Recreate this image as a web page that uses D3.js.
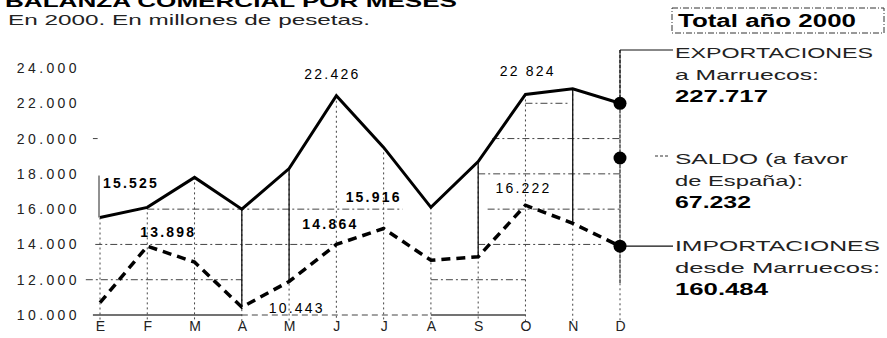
<!DOCTYPE html>
<html>
<head>
<meta charset="utf-8">
<script src="https://cdn.jsdelivr.net/npm/d3@7"></script>
<style>
  body { margin: 0; background: #fff; }
  svg { font-family: 'Liberation Sans', Arial, sans-serif; }
  .tick text { fill: #222; }
</style>
</head>
<body>
<div id="chart"></div>
<script>
// Months (x axis)
var months = ['E', 'F', 'M', 'A', 'M', 'J', 'J', 'A', 'S', 'O', 'N', 'D'];

// Exports to Morocco, millions of pesetas
var exportsData = [15525, 16100, 17800, 16000, 18300, 22426, 19500, 16100, 18700, 22500, 22824, 22000];

// Imports from Morocco, millions of pesetas
var importsData = [10700, 13898, 13000, 10443, 11900, 14000, 14900, 13100, 13300, 16222, 15200, 13900];

// Y ticks
var yTicks = [10000, 12000, 14000, 16000, 18000, 20000, 22000, 24000];

// Point annotations: series, month index, label
var annotations = [
  { series: 'exp', month: 0, text: '15.525', bold: true },
  { series: 'imp', month: 1, text: '13.898', bold: true },
  { series: 'exp', month: 5, text: '22.426', bold: false },
  { series: 'imp', month: 3, text: '10.443', bold: false },
  { series: 'imp', month: 5, text: '14.864', bold: true },
  { series: 'imp', month: 6, text: '15.916', bold: true },
  { series: 'imp', month: 9, text: '16.222', bold: false },
  { series: 'exp', month: 10, text: '22 824', bold: false }
];

// Partial horizontal guides: value, from month, to month
var hGuides = [
  { v: 12000, from: -0.3, to: 3 }, { v: 12000, from: 7, to: 9 },
  { v: 14000, from: -0.1, to: 5 }, { v: 14000, from: 8, to: 10.6 },
  { v: 16000, from: 1, to: 6.4 }, { v: 16000, from: 8.2, to: 11 },
  { v: 18000, from: 8, to: 11 },
  { v: 20000, from: -0.15, to: -0.05 }, { v: 20000, from: 8.3, to: 11 },
  { v: 22000, from: 9, to: 9.9 }
];

// Months where exports and imports are joined by a solid rule
var connectors = [3, 4, 8, 10];

// Legend
var legendTitle = 'Total año 2000';
var legendItems = [
  { lines: ['EXPORTACIONES', 'a Marruecos:'], total: '227.717' },
  { lines: ['SALDO (a favor', 'de España):'], total: '67.232' },
  { lines: ['IMPORTACIONES', 'desde Marruecos:'], total: '160.484' }
];

var es = d3.formatLocale({ decimal: ',', thousands: '.', grouping: [3], currency: ['', ' pta'] });
var fmt = es.format(',');

var width = 887, height = 338;

var svg = d3.select('#chart')
            .append('svg')
            .attr('width', width)
            .attr('height', height);

var x = d3.scaleLinear()
          .domain([0, 11])
          .range([100, 620]);

var y = d3.scaleLinear()
          .domain([10000, 24000])
          .range([315, 68]);

// Titles (top one is cut by the frame, as in the print)
svg.append('text')
   .attr('x', 5)
   .attr('y', 7)
   .attr('font-size', 17)
   .attr('font-weight', 'bold')
   .attr('textLength', 452)
   .attr('lengthAdjust', 'spacingAndGlyphs')
   .text('BALANZA COMERCIAL POR MESES');

svg.append('text')
   .attr('x', 8)
   .attr('y', 25)
   .attr('font-size', 15)
   .attr('textLength', 362)
   .attr('lengthAdjust', 'spacingAndGlyphs')
   .attr('fill', '#222')
   .text('En 2000. En millones de pesetas.');

// Guides
var guides = svg.append('g')
                .attr('stroke', '#444')
                .attr('stroke-width', 1)
                .attr('fill', 'none');

guides.selectAll('.hguide')
      .data(hGuides)
      .enter()
      .append('line')
      .attr('class', 'hguide')
      .attr('x1', function(d) { return x(d.from); })
      .attr('x2', function(d) { return x(d.to); })
      .attr('y1', function(d) { return y(d.v); })
      .attr('y2', function(d) { return y(d.v); })
      .attr('stroke-dasharray', '7,3,2,3');

// Base line
guides.append('line')
      .attr('x1', x(-0.15)).attr('x2', x(3))
      .attr('y1', y(10000)).attr('y2', y(10000))
      .attr('stroke-width', 1.3);
guides.append('line')
      .attr('x1', x(3)).attr('x2', x(7))
      .attr('y1', y(10000)).attr('y2', y(10000))
      .attr('stroke-dasharray', '6,4');
guides.append('line')
      .attr('x1', x(7)).attr('x2', x(9))
      .attr('y1', y(10000)).attr('y2', y(10000))
      .attr('stroke-width', 1.3);

// Vertical dotted guides from exports down to base
guides.selectAll('.vguide')
      .data(exportsData)
      .enter()
      .append('line')
      .attr('class', 'vguide')
      .attr('x1', function(d, i) { return x(i); })
      .attr('x2', function(d, i) { return x(i); })
      .attr('y1', function(d) { return y(d); })
      .attr('y2', y(10000) + 6)
      .attr('stroke-dasharray', '2,3');

// Solid connectors
guides.selectAll('.conn')
      .data(connectors)
      .enter()
      .append('line')
      .attr('class', 'conn')
      .attr('x1', function(d) { return x(d); })
      .attr('x2', function(d) { return x(d); })
      .attr('y1', function(d) { return y(exportsData[d]); })
      .attr('y2', function(d) { return y(importsData[d]); })
      .attr('stroke', '#111')
      .attr('stroke-width', 1.3);

// Axes
var yAxis = d3.axisLeft(y)
              .tickValues(yTicks)
              .tickSize(0)
              .tickPadding(0)
              .tickFormat(fmt);

svg.append('g')
   .attr('class', 'y-axis')
   .attr('transform', 'translate(80,0)')
   .call(yAxis)
   .call(function(g) { g.select('.domain').remove(); })
   .selectAll('text')
   .attr('font-size', 14)
   .attr('letter-spacing', 3.4)
   .attr('fill', '#333');

var xAxis = d3.axisBottom(x)
              .tickValues(d3.range(12))
              .tickSize(0)
              .tickPadding(6)
              .tickFormat(function(i) { return months[i]; });

svg.append('g')
   .attr('class', 'x-axis')
   .attr('transform', 'translate(0,' + y(10000) + ')')
   .call(xAxis)
   .call(function(g) { g.select('.domain').remove(); })
   .selectAll('text')
   .attr('font-size', 14)
   .attr('fill', '#222');

// Lines
var line = d3.line()
             .x(function(d, i) { return x(i); })
             .y(function(d) { return y(d); });

svg.append('path')
   .datum(importsData)
   .attr('fill', 'none')
   .attr('stroke', '#000')
   .attr('stroke-width', 3.5)
   .attr('stroke-dasharray', '9,6')
   .attr('d', line);

svg.append('path')
   .datum(exportsData)
   .attr('fill', 'none')
   .attr('stroke', '#000')
   .attr('stroke-width', 3)
   .attr('stroke-linejoin', 'miter')
   .attr('d', line);

// Annotations
var offsets = {
  '15.525': [3, -30], '13.898': [-7, -9], '22.426': [-32, -17], '10.443': [27, 6],
  '14.864': [-34, -15], '15.916': [-38, -27], '16.222': [-30, -12], '22 824': [-73, -13]
};

svg.selectAll('.ann')
   .data(annotations)
   .enter()
   .append('text')
   .attr('class', 'ann')
   .attr('x', function(d) { return x(d.month) + offsets[d.text][0]; })
   .attr('y', function(d) {
     var v = d.series === 'exp' ? exportsData[d.month] : importsData[d.month];
     return y(v) + offsets[d.text][1];
   })
   .attr('font-size', 14)
   .attr('font-weight', function(d) { return d.bold ? 'bold' : 'normal'; })
   .attr('letter-spacing', 2.2)
   .text(function(d) { return d.text; });

// Leader for first label
svg.append('line')
   .attr('x1', x(0) - 1).attr('x2', x(0) - 1)
   .attr('y1', y(exportsData[0]) - 42).attr('y2', y(exportsData[0]))
   .attr('stroke', '#222')
   .attr('stroke-width', 1);

// Legend markers at December
var saldoY = 158;
var dx = x(11);

svg.append('line')
   .attr('x1', dx).attr('x2', dx)
   .attr('y1', 50).attr('y2', y(10000) - 30)
   .attr('stroke', '#222')
   .attr('stroke-width', 1.2)
   .attr('stroke-dasharray', '3,2');

svg.append('path')
   .attr('d', 'M' + dx + ',' + y(exportsData[11]) + 'V50H673')
   .attr('fill', 'none')
   .attr('stroke', '#111')
   .attr('stroke-width', 1);

svg.append('line')
   .attr('x1', 655).attr('x2', 670)
   .attr('y1', saldoY - 2).attr('y2', saldoY - 2)
   .attr('stroke', '#333')
   .attr('stroke-dasharray', '3,2');

svg.append('line')
   .attr('x1', dx).attr('x2', 673)
   .attr('y1', y(importsData[11])).attr('y2', y(importsData[11]))
   .attr('stroke', '#111')
   .attr('stroke-width', 1.2);

svg.selectAll('.dot')
   .data([y(exportsData[11]), saldoY, y(importsData[11])])
   .enter()
   .append('circle')
   .attr('class', 'dot')
   .attr('cx', dx)
   .attr('cy', function(d) { return d; })
   .attr('r', 6.5)
   .attr('fill', '#000');

// Legend title box
svg.append('rect')
   .attr('x', 672).attr('y', 8)
   .attr('width', 212).attr('height', 25)
   .attr('fill', 'none')
   .attr('stroke', '#333')
   .attr('stroke-dasharray', '6,2,1,2');

svg.append('text')
   .attr('x', 678).attr('y', 27)
   .attr('font-size', 18)
   .attr('font-weight', 'bold')
   .attr('textLength', 178)
   .attr('lengthAdjust', 'spacingAndGlyphs')
   .text(legendTitle);

var legendBase = [58, 164, 251];
var lineWidths = [[198, 144], [173, 128], [205, 205]];
var totalWidths = [93, 76, 93];

legendItems.forEach(function(item, k) {
  item.lines.forEach(function(t, j) {
    svg.append('text')
       .attr('x', 675)
       .attr('y', legendBase[k] + j * 22)
       .attr('font-size', 15)
       .attr('fill', '#222')
       .attr('textLength', lineWidths[k][j])
       .attr('lengthAdjust', 'spacingAndGlyphs')
       .text(t);
  });
  svg.append('text')
     .attr('x', 675)
     .attr('y', legendBase[k] + 44)
     .attr('font-size', 16)
     .attr('font-weight', 'bold')
     .attr('textLength', totalWidths[k])
     .attr('lengthAdjust', 'spacingAndGlyphs')
     .text(item.total);
});
</script>
</body>
</html>
